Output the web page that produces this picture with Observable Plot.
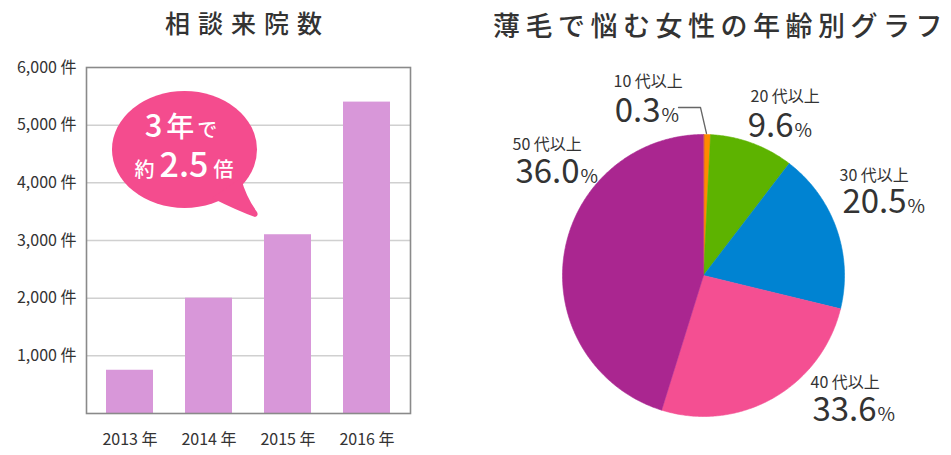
<!DOCTYPE html>
<html><head><meta charset="utf-8">
<script src="https://cdn.jsdelivr.net/npm/d3@7"></script>
<script src="https://cdn.jsdelivr.net/npm/@observablehq/plot@0.6"></script>
<style>
body{margin:0;background:#fff;font-family:"Noto Sans CJK JP","Noto Sans",sans-serif;}
#wrap{position:relative;width:951px;height:455px;overflow:hidden;background:#fff}
.title{position:absolute;color:#333;white-space:nowrap;font-weight:500;line-height:1}
#t1{left:165px;top:10px;font-size:25px;letter-spacing:8px}
#t2{left:493px;top:11px;font-size:27px;letter-spacing:5.5px}
#bar{position:absolute;left:0;top:0}
#pie{position:absolute;left:480px;top:0}
</style></head><body>
<div id="wrap">
<div class="title" id="t1">相談来院数</div>
<div class="title" id="t2">薄毛で悩む女性の年齢別グラフ</div>
<div id="bar"></div><div id="pie"></div>
</div>
<script>
// ---- data ----
const years = ["2013", "2014", "2015", "2016"];
const visits = [750, 2000, 3100, 5400];
const yTicks = [1000, 2000, 3000, 4000, 5000, 6000];

const ages = ["10 代以上", "20 代以上", "30 代以上", "40 代以上", "50 代以上"];
const pctLabels = ["0.3", "9.6", "20.5", "33.6", "36.0"];
const pieShares = [0.8, 9.6, 18.4, 26.0, 45.2]; // slice sizes as drawn
const pieColors = ["#ff8a00", "#5db300", "#0083d2", "#f44f92", "#aa2690"];

const FONT = '"Noto Sans CJK JP","Noto Sans",sans-serif';

// ---- bar chart ----
const barData = years.map((y, i) => ({year: y, value: visits[i]}));

function bubble() {
  const g = d3.create("svg:g");
  const col = "#f44c8e";
  g.append("ellipse").attr("cx", 184.5).attr("cy", 149.5).attr("rx", 72.5).attr("ry", 58.5).attr("fill", col);
  g.append("path").attr("d", "M212,198 Q238,211 255,217 Q259,216 257,212 Q246,197 241,178 Z").attr("fill", col);
  const t1 = g.append("text").attr("x", 181).attr("y", 137).attr("text-anchor", "middle")
    .attr("fill", "#fff").attr("font-weight", 500).attr("font-family", FONT);
  t1.append("tspan").attr("font-size", 31).text("3");
  t1.append("tspan").attr("font-size", 28).attr("dx", 4).text("年");
  t1.append("tspan").attr("font-size", 20).attr("dx", 3).text("で");
  const t2 = g.append("text").attr("x", 184).attr("y", 177).attr("text-anchor", "middle")
    .attr("fill", "#fff").attr("font-weight", 500).attr("font-family", FONT);
  t2.append("tspan").attr("font-size", 20).text("約");
  t2.append("tspan").attr("font-size", 34).attr("dx", 5).text("2.5");
  t2.append("tspan").attr("font-size", 20).attr("dx", 5).text("倍");
  return g.node();
}

const bar = Plot.plot({
  width: 430, height: 455,
  marginLeft: 86, marginRight: 20, marginTop: 67, marginBottom: 42,
  style: {fontFamily: FONT, fontSize: "16px", color: "#333", background: "transparent", overflow: "visible"},
  x: {domain: years, paddingInner: 0.4, paddingOuter: 0.24},
  y: {domain: [0, 6000]},
  marks: [
    Plot.ruleY(yTicks.slice(0, -1), {stroke: "#d0d0d0", strokeWidth: 1.5}),
    Plot.barY(barData, {x: "year", y: "value", fill: "#d897d9"}),
    Plot.frame({stroke: "#8a8a8a", strokeWidth: 1.6}),
    Plot.axisY({ticks: yTicks, tickSize: 0, tickPadding: 10, label: null,
      tickFormat: d => d3.format(",")(d) + " 件", fontSize: 16, fill: "#333"}),
    Plot.axisX({tickSize: 0, tickPadding: 20, label: null, tickFormat: d => d + " 年", fontSize: 16, fill: "#333"}),
    bubble
  ]
});
document.getElementById("bar").append(bar);

// ---- pie chart ----
const W = 471, H = 455;
const pieCx = 223, pieCy = 275, pieR = 141;
const arcs = d3.pie().sort(null).value(d => d)(pieShares);
const slicePts = arcs.flatMap((a, i) => {
  const pts = [{x: pieCx, y: pieCy}];
  const n = Math.max(2, Math.ceil((a.endAngle - a.startAngle) / 0.01));
  for (let k = 0; k <= n; k++) {
    const t = a.startAngle + (a.endAngle - a.startAngle) * k / n;
    pts.push({x: pieCx + pieR * Math.sin(t), y: pieCy - pieR * Math.cos(t)});
  }
  return pts.map(p => ({...p, key: ages[i], color: pieColors[i]}));
});

// label layout (pixel positions in the pie panel): name start x/center y, number junction x/center y
const labelLayout = [
  {nx: 133, ny: 81, jx: 180, vy: 111},
  {nx: 270, ny: 96, jx: 313, vy: 126},
  {nx: 359, ny: 175, jx: 426, vy: 202},
  {nx: 330, ny: 382, jx: 396, vy: 410},
  {nx: 32, ny: 144, jx: 99, vy: 172}
];
const labels = ages.map((a, i) => ({name: a, pct: pctLabels[i], ...labelLayout[i]}));
const leader = [{x: 198, y: 107}, {x: 220, y: 107}, {x: 226, y: 133}];

const pie = Plot.plot({
  width: W, height: H, margin: 0,
  style: {fontFamily: FONT, color: "#333", background: "transparent", overflow: "visible"},
  x: {domain: [0, W], range: [0, W], axis: null},
  y: {domain: [0, H], range: [0, H], axis: null},
  color: {type: "identity"},
  marks: [
    Plot.line(slicePts, {x: "x", y: "y", z: "key", fill: "color", stroke: "color", strokeWidth: 0.6, curve: "linear-closed"}),
    Plot.line(leader, {x: "x", y: "y", stroke: "#666", strokeWidth: 1.3}),
    Plot.text(labels, {x: "nx", y: "ny", text: "name", textAnchor: "start", lineAnchor: "middle", fontSize: 16, fill: "#333"}),
    Plot.text(labels, {x: "jx", y: "vy", text: "pct", textAnchor: "end", lineAnchor: "middle", fontSize: 33, fill: "#333"}),
    Plot.text(labels, {x: "jx", y: "vy", text: () => "%", textAnchor: "start", lineAnchor: "middle", dx: 1, dy: 4, fontSize: 19, fill: "#333"})
  ]
});
document.getElementById("pie").append(pie);
</script>
</body></html>
